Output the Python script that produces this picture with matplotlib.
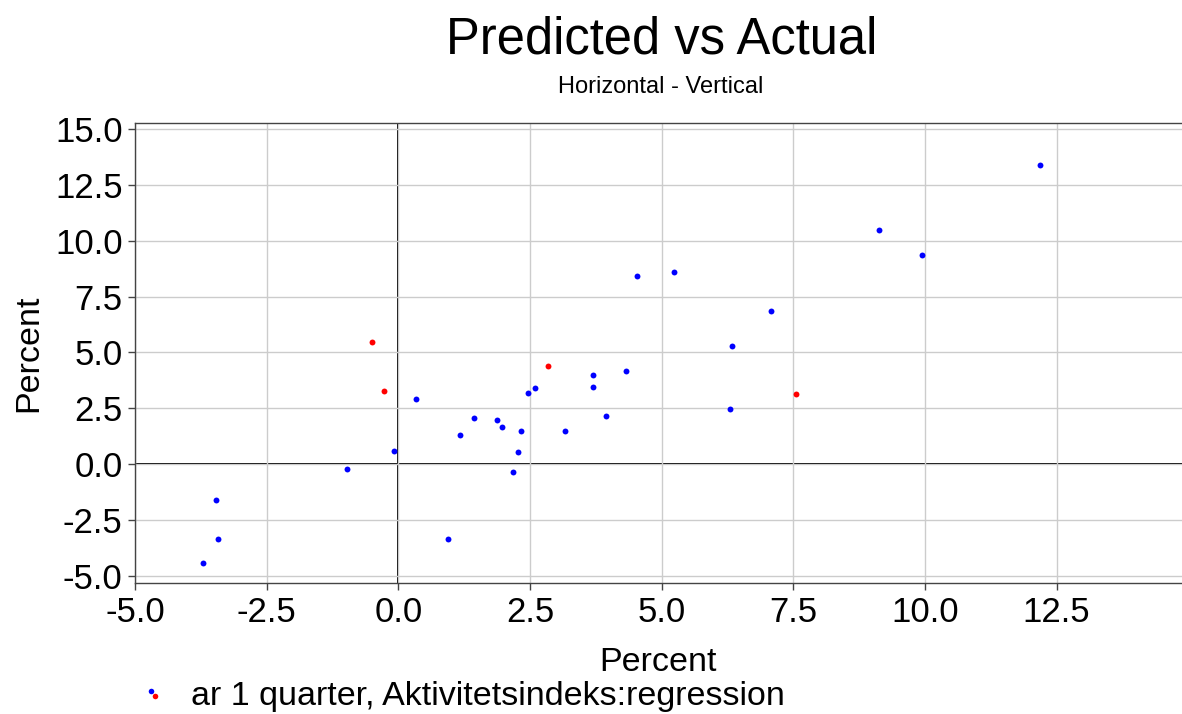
import matplotlib
matplotlib.use("Agg")
import matplotlib.pyplot as plt
from matplotlib.lines import Line2D
from matplotlib.legend_handler import HandlerBase

plt.rcParams['font.family'] = ['Liberation Sans', 'DejaVu Sans']

# Actual (horizontal) vs predicted (vertical), percent
blue_x = [-3.70, -3.47, -3.43, -0.97, -0.08, 0.34, 0.95, 1.18, 1.44, 1.88,
          1.97, 2.18, 2.27, 2.32, 2.46, 2.60, 3.16, 3.70, 3.69, 3.94,
          4.32, 4.53, 5.24, 6.29, 6.34, 7.08, 9.12, 9.94, 12.19]
blue_y = [-4.42, -1.61, -3.37, -0.22, 0.60, 2.93, -3.37, 1.31, 2.07, 1.98,
          1.66, -0.37, 0.52, 1.48, 3.17, 3.42, 1.46, 3.97, 3.43, 2.14,
          4.15, 8.40, 8.58, 2.46, 5.29, 6.85, 10.47, 9.35, 13.39]
red_x = [-0.50, -0.27, 2.84, 7.55]
red_y = [5.48, 3.26, 4.40, 3.13]

x_ticks = [-5.0, -2.5, 0.0, 2.5, 5.0, 7.5, 10.0, 12.5]
y_ticks = [-5.0, -2.5, 0.0, 2.5, 5.0, 7.5, 10.0, 12.5, 15.0]
legend_label = "ar 1 quarter, Aktivitetsindeks:regression"

fig = plt.figure(figsize=(11.82, 7.14), dpi=100)
ax = fig.add_axes([135 / 1182, 1 - 583 / 714, 1 - 135 / 1182, (583 - 123) / 714])

ax.set_xlim(-5.0, 14.88)
ax.set_ylim(-5.33, 15.27)
ax.set_xticks(x_ticks)
ax.set_yticks(y_ticks)
ax.set_xticklabels([f"{v:.1f}" for v in x_ticks])
ax.set_yticklabels([f"{v:.1f}" for v in y_ticks])
ax.tick_params(labelsize=25, length=5, width=1, color='#444444', pad=4)

ax.grid(True, color='#cccccc', linewidth=1.0, zorder=0)
ax.axhline(0, color='black', linewidth=1.44, zorder=1, snap=True)
ax.axvline(0, color='black', linewidth=1.44, zorder=1, snap=True)

for side in ('left', 'bottom', 'top'):
    ax.spines[side].set_color('#444444')
    ax.spines[side].set_linewidth(1.0)
ax.spines['right'].set_visible(False)

ax.scatter(blue_x, blue_y, s=18, color='#0000ff', linewidths=0, zorder=3)
ax.scatter(red_x, red_y, s=18, color='#ff0000', linewidths=0, zorder=3)

ax.set_xlabel("Percent", fontsize=24.5, labelpad=13)
ax.set_ylabel("Percent", fontsize=24.5, labelpad=8)

fig.text(662 / 1182, 1 - 40 / 714, "Predicted vs Actual", fontsize=36.5,
         ha='center', va='center')
fig.text(661 / 1182, 1 - 87 / 714, "Horizontal - Vertical", fontsize=17,
         ha='center', va='center')


class TwoDotHandler(HandlerBase):
    """Legend key made of a blue dot and an offset red dot."""

    def create_artists(self, legend, orig_handle, xdescent, ydescent,
                       width, height, fontsize, trans):
        cx = width / 2 - xdescent
        cy = height / 2 - ydescent
        a = Line2D([cx - 1.5], [cy + 2], marker='o', markersize=4,
                   markeredgewidth=0, color='#0000ff', linestyle='none',
                   transform=trans)
        b = Line2D([cx + 1.5], [cy - 2], marker='o', markersize=4,
                   markeredgewidth=0, color='#ff0000', linestyle='none',
                   transform=trans)
        return [a, b]


key = Line2D([], [], linestyle='none')
fig.legend([key], [legend_label], handler_map={Line2D: TwoDotHandler()},
           loc='center left', bbox_to_anchor=(143 / 1182, 1 - 697 / 714),
           frameon=False, fontsize=24.5, handlelength=0.6, handletextpad=0.8,
           borderaxespad=0, borderpad=0)

fig.savefig("out.png", dpi=100)
